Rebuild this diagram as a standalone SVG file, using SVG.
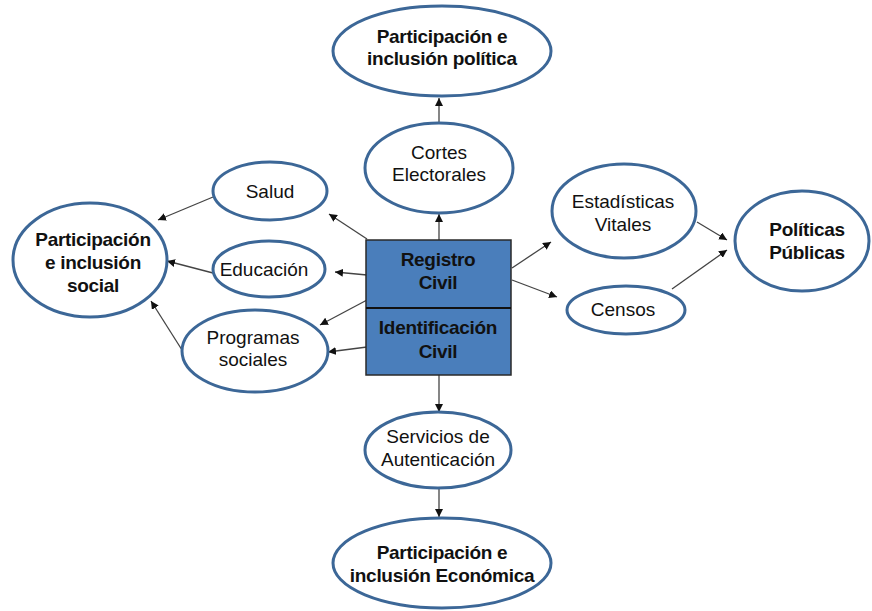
<svg xmlns="http://www.w3.org/2000/svg" width="872" height="611" viewBox="0 0 872 611">
<style>
.n{fill:#fff;stroke:#3c6797;stroke-width:3}
.t{font-family:"Liberation Sans",Arial,sans-serif;font-size:19px;fill:#111;text-anchor:middle}
.b{font-weight:bold;letter-spacing:-0.3px}
.c{stroke:#444;stroke-width:1.3;fill:none;marker-end:url(#ah)}
</style>
<defs>
<marker id="ah" viewBox="0 0 10 10" refX="10" refY="5" markerWidth="8" markerHeight="8" markerUnits="userSpaceOnUse" orient="auto">
<path d="M0,0 L10,5 L0,10 z" fill="#111"/>
</marker>
</defs>
<rect width="872" height="611" fill="#fff"/>
<g id="connectors">
<line class="c" x1="439" y1="240" x2="439" y2="214"/>
<line class="c" x1="439" y1="123" x2="439" y2="98"/>
<line class="c" x1="367" y1="239" x2="329" y2="214"/>
<line class="c" x1="367" y1="275" x2="335" y2="272"/>
<line class="c" x1="367" y1="300" x2="320" y2="325"/>
<line class="c" x1="367" y1="347" x2="328" y2="352"/>
<line class="c" x1="213" y1="197" x2="158" y2="220"/>
<line class="c" x1="213" y1="273" x2="167" y2="261"/>
<line class="c" x1="182" y1="350" x2="151" y2="301"/>
<line class="c" x1="512" y1="268" x2="551" y2="242"/>
<line class="c" x1="512" y1="280" x2="557" y2="297"/>
<line class="c" x1="697" y1="222" x2="727" y2="240"/>
<line class="c" x1="672" y1="289" x2="727" y2="250"/>
<line class="c" x1="439" y1="375" x2="439" y2="412"/>
<line class="c" x1="439" y1="488" x2="439" y2="517"/>
</g>
<g id="politica">
<ellipse class="n" cx="442" cy="51" rx="109" ry="45"/>
<text class="t b" x="442" y="43">Participación e</text>
<text class="t b" x="442" y="65">inclusión política</text>
</g>
<g id="cortes">
<ellipse class="n" cx="439" cy="168" rx="74" ry="45"/>
<text class="t" x="439" y="159">Cortes</text>
<text class="t" x="439" y="181">Electorales</text>
</g>
<g id="social">
<ellipse class="n" cx="90" cy="260" rx="77" ry="57"/>
<text class="t b" x="93" y="246">Participación</text>
<text class="t b" x="93" y="269">e inclusión</text>
<text class="t b" x="93" y="292">social</text>
</g>
<g id="salud">
<ellipse class="n" cx="270" cy="191" rx="57" ry="29"/>
<text class="t" x="270" y="198">Salud</text>
</g>
<g id="educacion">
<ellipse class="n" cx="269" cy="269" rx="56" ry="28"/>
<text class="t" x="264" y="276">Educación</text>
</g>
<g id="programas">
<ellipse class="n" cx="255" cy="351" rx="73" ry="41"/>
<text class="t" x="253" y="344">Programas</text>
<text class="t" x="253" y="366">sociales</text>
</g>
<g id="registro">
<rect x="366" y="240" width="145" height="135" fill="#4a7ebb" stroke="#2a2a2a" stroke-width="1.5"/>
<line x1="366" y1="308" x2="511" y2="308" stroke="#111" stroke-width="2"/>
<text class="t b" x="438" y="266">Registro</text>
<text class="t b" x="438" y="289">Civil</text>
<text class="t b" x="438" y="334">Identificación</text>
<text class="t b" x="438" y="358">Civil</text>
</g>
<g id="estadisticas">
<ellipse class="n" cx="624" cy="211" rx="72" ry="47"/>
<text class="t" x="623" y="208">Estadísticas</text>
<text class="t" x="623" y="231">Vitales</text>
</g>
<g id="censos">
<ellipse class="n" cx="626" cy="310" rx="59" ry="24"/>
<text class="t" x="623" y="316">Censos</text>
</g>
<g id="politicas">
<ellipse class="n" cx="802" cy="241" rx="67" ry="50"/>
<text class="t b" x="807" y="236">Políticas</text>
<text class="t b" x="807" y="259">Públicas</text>
</g>
<g id="servicios">
<ellipse class="n" cx="438" cy="450" rx="73" ry="38"/>
<text class="t" x="438" y="443">Servicios de</text>
<text class="t" x="438" y="466">Autenticación</text>
</g>
<g id="economica">
<ellipse class="n" cx="442" cy="563" rx="109" ry="45"/>
<text class="t b" x="442" y="559">Participación e</text>
<text class="t b" x="442" y="582">inclusión Económica</text>
</g>
</svg>
